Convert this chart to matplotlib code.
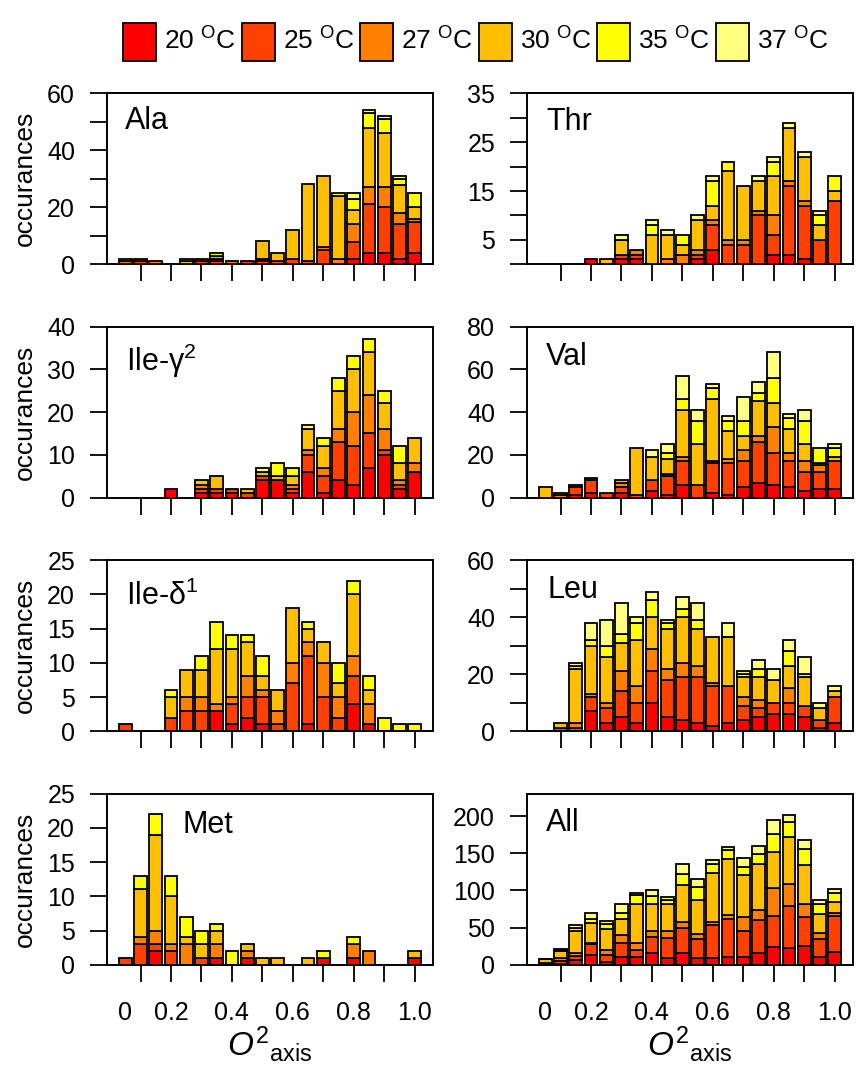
import numpy as np
import matplotlib
matplotlib.use("Agg")
import matplotlib.pyplot as plt
from matplotlib.patches import Rectangle

plt.rcParams.update({
    "font.family": ["Liberation Sans", "DejaVu Sans"],
    "mathtext.fontset": "custom",
    "mathtext.rm": "Liberation Sans",
    "mathtext.it": "Liberation Sans:italic",
    "mathtext.bf": "Liberation Sans:bold",
    "axes.linewidth": 1.4,
})

# ---- data -----------------------------------------------------------------
temperatures = ["20", "25", "27", "30", "35", "37"]
colours = ["#FF0000", "#FF4000", "#FF8000", "#FFBF00", "#FFFF00", "#FFFF80"]

bin_centres = [0.05, 0.10, 0.15, 0.20, 0.25, 0.30, 0.35, 0.40, 0.45, 0.50,
               0.55, 0.60, 0.65, 0.70, 0.75, 0.80, 0.85, 0.90, 0.95, 1.00]

xtick_labels = ["0", "0.2", "0.4", "0.6", "0.8", "1.0"]

# counts per bin, one row per bin: [20, 25, 27, 30, 35, 37 degC]
ala = [[0, 0, 1, 1, 0, 0], [0, 1, 0, 1, 0, 0], [0, 0, 1, 0, 0, 0], [0, 0, 0, 0, 0, 0],
       [0, 0, 0, 1, 1, 0], [0, 1, 0, 1, 0, 0], [0, 1, 1, 1, 1, 0], [0, 0, 1, 0, 0, 0],
       [0, 1, 0, 0, 0, 0], [0, 1, 1, 6, 0, 0], [0, 1, 0, 3, 0, 0], [0, 2, 0, 10, 0, 0],
       [0, 1, 0, 27, 0, 0], [0, 5, 1, 25, 0, 0], [0, 0, 2, 22, 1, 0], [2, 6, 6, 5, 4, 2],
       [4, 17, 6, 21, 5, 1], [4, 16, 7, 19, 5, 1], [2, 12, 4, 10, 2, 1], [4, 11, 1, 4, 5, 0]]

thr = [[0, 0, 0, 0, 0, 0], [0, 0, 0, 0, 0, 0], [0, 0, 0, 0, 0, 0], [1, 0, 0, 0, 0, 0],
       [0, 0, 0, 1, 0, 0], [1, 1, 0, 3, 0, 1], [1, 1, 1, 0, 0, 0], [0, 0, 0, 6, 2, 1],
       [0, 0, 1, 5, 0, 1], [0, 0, 2, 2, 2, 0], [1, 1, 1, 6, 0, 1], [3, 5, 1, 3, 5, 1],
       [0, 4, 1, 14, 2, 0], [0, 4, 1, 11, 0, 0], [0, 10, 1, 6, 0, 1], [2, 4, 4, 8, 3, 1],
       [2, 14, 1, 11, 0, 1], [1, 11, 1, 9, 0, 1], [0, 5, 0, 3, 2, 1], [0, 13, 0, 2, 3, 0]]

ile_g2 = [[0, 0, 0, 0, 0, 0], [0, 0, 0, 0, 0, 0], [0, 0, 0, 0, 0, 0], [2, 0, 0, 0, 0, 0],
          [0, 0, 0, 0, 0, 0], [1, 1, 1, 1, 0, 0], [1, 1, 0, 3, 0, 0], [1, 1, 0, 0, 0, 0],
          [0, 1, 0, 1, 0, 0], [4, 1, 0, 1, 0, 1], [4, 0, 0, 1, 3, 0], [1, 1, 1, 2, 2, 0],
          [6, 4, 1, 5, 0, 1], [1, 4, 2, 5, 2, 0], [4, 9, 3, 9, 3, 0], [3, 9, 8, 10, 3, 0],
          [7, 8, 9, 10, 3, 0], [10, 1, 5, 6, 3, 0], [2, 1, 1, 4, 4, 0], [6, 0, 2, 6, 0, 0]]

val = [[0, 0, 0, 5, 0, 0], [0, 0, 1, 1, 0, 0], [1, 4, 1, 0, 0, 0], [2, 6, 1, 0, 0, 0],
       [0, 2, 0, 0, 0, 0], [2, 3, 2, 1, 0, 0], [0, 1, 0, 22, 0, 0], [3, 5, 0, 11, 0, 3],
       [1, 9, 1, 7, 3, 4], [6, 11, 2, 22, 5, 11], [0, 6, 0, 19, 11, 5], [2, 14, 1, 29, 5, 2],
       [1, 15, 2, 13, 5, 2], [5, 12, 5, 7, 7, 11], [7, 19, 3, 16, 4, 5], [6, 15, 12, 11, 12, 12],
       [5, 12, 4, 11, 5, 2], [3, 9, 5, 8, 11, 5], [4, 8, 3, 1, 7, 0], [4, 13, 0, 2, 4, 2]]

ile_d1 = [[0, 1, 0, 0, 0, 0], [0, 0, 0, 0, 0, 0], [0, 0, 0, 0, 0, 0], [0, 2, 0, 3, 1, 0],
          [0, 3, 2, 4, 0, 0], [0, 3, 2, 4, 2, 0], [3, 0, 1, 8, 4, 0], [1, 3, 1, 7, 2, 0],
          [2, 3, 3, 5, 1, 0], [1, 4, 1, 2, 3, 0], [0, 1, 2, 3, 0, 0], [0, 7, 3, 8, 0, 0],
          [1, 10, 2, 2, 1, 0], [0, 5, 5, 3, 0, 0], [0, 2, 3, 2, 3, 0], [4, 4, 3, 9, 2, 0],
          [1, 0, 3, 2, 2, 0], [0, 0, 0, 0, 2, 0], [0, 0, 0, 0, 1, 0], [0, 0, 0, 0, 1, 0]]

leu = [[0, 0, 0, 0, 0, 0], [0, 1, 0, 2, 0, 0], [0, 1, 2, 19, 1, 1], [7, 5, 1, 17, 2, 6],
       [3, 5, 2, 16, 4, 9], [5, 9, 7, 10, 3, 11], [3, 7, 6, 16, 6, 2], [10, 11, 8, 11, 6, 3],
       [5, 13, 4, 14, 2, 1], [4, 15, 5, 16, 3, 4], [3, 16, 4, 13, 3, 6], [2, 14, 1, 16, 0, 0],
       [3, 13, 0, 17, 0, 5], [4, 5, 3, 7, 1, 1], [5, 3, 3, 8, 3, 3], [6, 4, 0, 8, 0, 4],
       [6, 4, 5, 8, 5, 4], [5, 4, 0, 10, 1, 6], [1, 3, 0, 4, 0, 2], [3, 9, 0, 2, 0, 2]]

met = [[0, 1, 0, 0, 0, 0], [0, 3, 1, 7, 2, 0], [2, 1, 2, 14, 3, 0], [0, 2, 1, 7, 3, 0],
       [0, 0, 3, 1, 3, 0], [0, 1, 0, 2, 2, 0], [1, 0, 2, 2, 1, 0], [0, 0, 0, 0, 2, 0],
       [1, 0, 1, 1, 0, 0], [0, 0, 0, 1, 0, 0], [0, 0, 0, 1, 0, 0], [0, 0, 0, 0, 0, 0],
       [0, 0, 0, 1, 0, 0], [1, 0, 0, 0, 1, 0], [0, 0, 0, 0, 0, 0], [1, 0, 2, 0, 1, 0],
       [0, 0, 2, 0, 0, 0], [0, 0, 0, 0, 0, 0], [0, 0, 0, 0, 0, 0], [1, 0, 0, 1, 0, 0]]

all_res = [[0, 1, 1, 5, 1, 0], [1, 4, 4, 9, 2, 1], [6, 6, 4, 30, 4, 3], [13, 15, 1, 27, 6, 7],
           [4, 9, 7, 28, 7, 4], [11, 18, 11, 22, 7, 13], [11, 9, 9, 53, 12, 3],
           [16, 21, 8, 36, 12, 7], [9, 27, 9, 36, 6, 4], [16, 33, 8, 50, 15, 14],
           [9, 25, 7, 46, 18, 10], [9, 45, 4, 66, 12, 5], [11, 51, 5, 75, 12, 4],
           [11, 35, 18, 57, 10, 12], [16, 44, 14, 62, 13, 10], [24, 42, 37, 49, 24, 19],
           [22, 57, 29, 64, 20, 9], [25, 39, 18, 52, 22, 12], [10, 25, 8, 25, 13, 6],
           [17, 49, 3, 16, 12, 5]]

# ---- layout (pixels, figure is 858 x 1070 at 100 dpi) --------------------
W, H = 858, 1070
fig = plt.figure(figsize=(W / 100, H / 100), dpi=100)

col_left = [107, 527]
row_top = [93.3, 326.5, 560.2, 793.7]
ax_w, ax_h = 326, 171


def add_axes_px(left, top):
    return fig.add_axes([left / W, 1 - (top + ax_h) / H, ax_w / W, ax_h / H])


# (counts, name, col, row, ymax, tick step, label every, top tick, label x, label y)
panels = [
    (ala, "Ala", 0, 0, 60, 10, 2, 60, 0.055, 0.79),
    (thr, "Thr", 1, 0, 35, 5, 2, 35, 0.058, 0.785),
    (ile_g2, "Ile-γ$^{2}$", 0, 1, 40, 10, 1, 40, 0.058, 0.742),
    (val, "Val", 1, 1, 80, 20, 1, 80, 0.058, 0.775),
    (ile_d1, "Ile-δ$^{1}$", 0, 2, 25, 5, 1, 25, 0.058, 0.738),
    (leu, "Leu", 1, 2, 60, 10, 2, 60, 0.062, 0.779),
    (met, "Met", 0, 3, 25, 5, 1, 25, 0.233, 0.773),
    (all_res, "All", 1, 3, 230, 50, 1, 200, 0.058, 0.78),
]

bar_width = 0.042
x = np.array(bin_centres)

for counts, name, col, row, ymax, step, every, ytop, lx, ly in panels:
    ax = add_axes_px(col_left[col], row_top[row])
    data = np.array(counts, dtype=float).T          # shape (6, nbins)
    base = np.zeros(len(bin_centres))
    for k in range(len(temperatures)):
        v = data[k]
        m = v > 0
        ax.bar(x[m], v[m], width=bar_width, bottom=base[m], color=colours[k],
               edgecolor="black", linewidth=1.3, zorder=2)
        base += v

    ax.set_xlim(-0.01, 1.06)
    ax.set_ylim(0, ymax)

    yt = np.arange(0, ytop + 0.1, step)
    # labels on every `every`-th tick counted down from the top tick
    ylabels = [("%g" % t) if (round((ytop - t) / step) % every == 0) else "" for t in yt]
    ax.set_yticks(yt, ylabels)
    ax.tick_params(axis="y", direction="out", length=12, width=1.3, pad=11,
                   labelsize=18)

    ax.set_xticks(np.round(np.arange(0.1, 1.01, 0.1), 2), [""] * 10)
    ax.tick_params(axis="x", which="major", direction="out", length=12, width=1.3)
    if row == 3:
        ax.xaxis.remove_overlapping_locs = False
        ax.set_xticks([0.05, 0.2, 0.4, 0.6, 0.8, 1.0], xtick_labels, minor=True)
        ax.tick_params(axis="x", which="minor", length=0, pad=26, labelsize=18)
    else:
        ax.set_xticks([], minor=True)

    ax.text(lx, ly, name, transform=ax.transAxes, fontsize=22, ha="left",
            va="baseline")

    if col == 0:
        ax.set_ylabel("occurances", fontsize=19)
        ax.yaxis.set_label_coords(-0.215, 0.5)
    if row == 3:
        fig.text((col_left[col] + ax_w / 2) / W, 14 / H,
                 r"$O^{2}{}_{\mathrm{axis}}$", fontsize=24, ha="center",
                 va="baseline")

# ---- legend ---------------------------------------------------------------
for i, (t, c) in enumerate(zip(temperatures, colours)):
    x0 = 123 + i * 118.6
    fig.add_artist(Rectangle((x0 / W, 1 - 61 / H), 33 / W, 38 / H,
                             transform=fig.transFigure, facecolor=c,
                             edgecolor="black", linewidth=1.3))
    fig.text((x0 + 41) / W, 1 - 50 / H, t + r" $^{\mathrm{O}}$C", fontsize=19,
             ha="left", va="baseline")

fig.savefig("out.png", dpi=100)
